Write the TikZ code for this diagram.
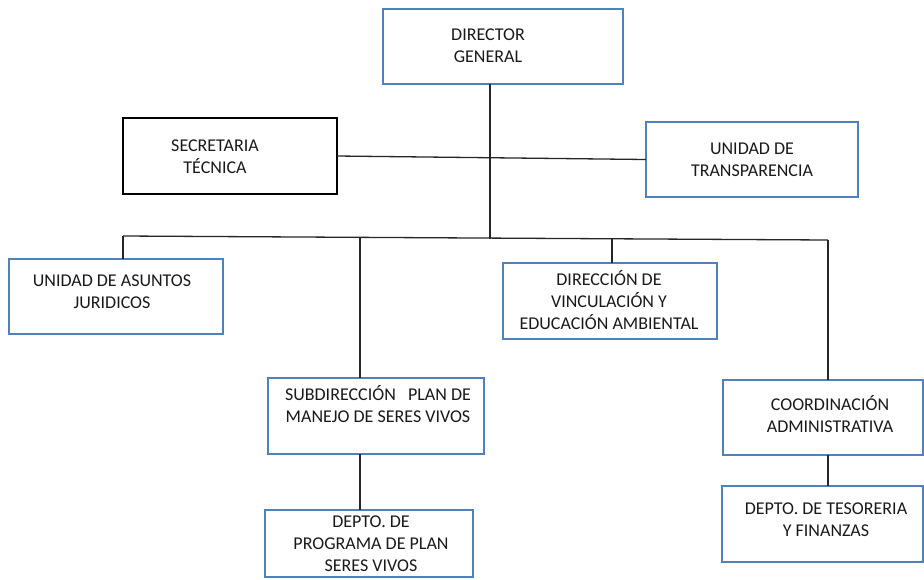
\documentclass[tikz,border=0pt]{standalone}
\usepackage{fontspec}
\setmainfont{Carlito}
\definecolor{boxblue}{RGB}{79,129,189}
\begin{document}
\begin{tikzpicture}[x=1pt,y=-1pt,
  bluebox/.style={draw=boxblue,line width=1.4pt,minimum width=#1,inner sep=0pt,outer sep=0pt},
  blackbox/.style={draw=black,line width=1.4pt,minimum width=#1,inner sep=0pt,outer sep=0pt},
  txt/.style={font=\fontsize{18}{22}\selectfont,align=center,inner sep=0pt,text=black!90},
  conn/.style={draw=black!85,line width=1.3pt}]
\useasboundingbox (0,0) rectangle (924,579);
% boxes
\node[bluebox=240pt,minimum height=75pt] (dir) at (503,46.5) {};
\node[blackbox=214pt,minimum height=76pt] (sec) at (230,156) {};
\node[bluebox=212pt,minimum height=75pt] (tra) at (752,159.5) {};
\node[bluebox=214pt,minimum height=75pt] (asj) at (116,296.5) {};
\node[bluebox=214pt,minimum height=76pt] (dva) at (610,301) {};
\node[bluebox=216pt,minimum height=76pt] (sub) at (376,416) {};
\node[bluebox=200pt,minimum height=75pt] (coo) at (823,417.5) {};
\node[bluebox=208pt,minimum height=67pt] (dpp) at (369,543.5) {};
\node[bluebox=201pt,minimum height=76pt] (dtf) at (822.5,524) {};
% texts
\node[txt] (tdir) at (488,46) {DIRECTOR\\GENERAL};
\node[txt] (tsec) at (215,157) {SECRETARIA\\TÉCNICA};
\node[txt] (ttra) at (752,160) {UNIDAD DE\\TRANSPARENCIA};
\node[txt] (tasj) at (112,291.5) {UNIDAD DE ASUNTOS\\JURIDICOS};
\node[txt] (tdva) at (609,300) {DIRECCIÓN DE\\VINCULACIÓN Y\\EDUCACIÓN AMBIENTAL};
\node[txt] (tsub) at (378,404) {SUBDIRECCIÓN\ \ \ PLAN DE\\MANEJO DE SERES VIVOS};
\node[txt] (tcoo) at (830,414) {COORDINACIÓN\\ADMINISTRATIVA};
\node[txt] (tdpp) at (371,544) {DEPTO. DE\\PROGRAMA DE PLAN\\SERES VIVOS};
\node[txt] (tdtf) at (826,519.5) {DEPTO. DE TESORERIA\\Y FINANZAS};
% connectors
\coordinate (busL) at (123,236);
\coordinate (busM) at (490,238.5);
\coordinate (busS) at (360,237);
\coordinate (busD) at (612,239);
\coordinate (busR) at (828,240);
\draw[conn] (dir.south -| busM) -- (busM);
\draw[conn] (sec.east) -- (tra.west);
\draw[conn] (busL) -- (busR);
\draw[conn] (busL) -- (busL |- asj.north);
\draw[conn] (busS) -- (busS |- sub.north);
\draw[conn] (busD) -- (busD |- dva.north);
\draw[conn] (busR) -- (busR |- coo.north);
\draw[conn] (busS |- sub.south) -- (busS |- dpp.north);
\draw[conn] (busR |- coo.south) -- (busR |- dtf.north);
\end{tikzpicture}
\end{document}
